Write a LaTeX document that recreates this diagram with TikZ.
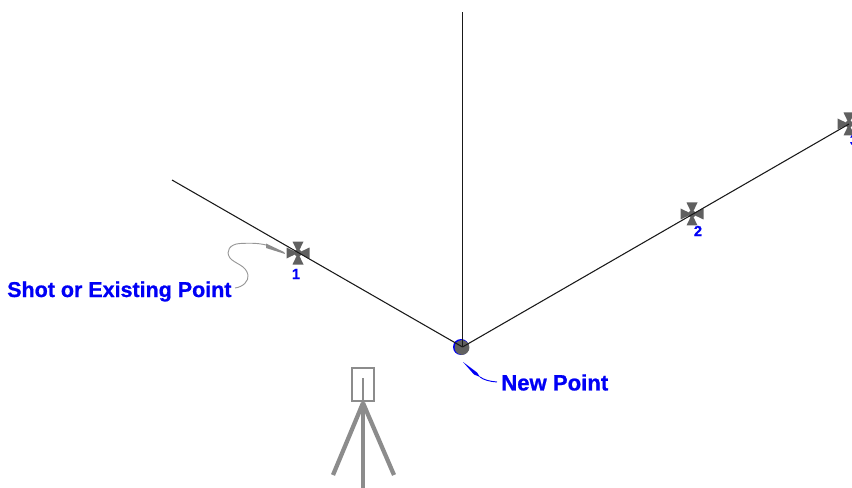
\documentclass[tikz,border=0pt]{standalone}
\usepackage{fontspec}
\setmainfont{Liberation Sans}
\newfontfamily\callfont[RawFeature={embolden=0.9}]{Liberation Sans Bold}
\usetikzlibrary{arrows.meta}
\definecolor{wedge}{RGB}{96,96,96}
\definecolor{tri}{RGB}{140,140,140}
\definecolor{lab}{RGB}{0,0,245}
\tikzset{
  ray/.style={draw=black!90,line width=0.8pt},
  calllabel/.style={text=lab,inner sep=0pt,anchor=west},
  numlabel/.style={text=lab,font=\callfont\fontsize{11}{11}\selectfont,inner sep=0pt},
  leader/.style={line width=0.7pt},
  legline/.style={draw=tri,line width=3.2pt},
  shot/.pic={
    \fill[wedge] (0,0) -- (-5.5,-11.5) -- (5.5,-11.5) -- cycle;
    \fill[wedge] (0,0) -- (-5.5,11.5) -- (5.5,11.5) -- cycle;
    \fill[wedge] (0,0) -- (-11.5,-5.5) -- (-11.5,5.5) -- cycle;
    \fill[wedge] (0,0) -- (11.5,-5.5) -- (11.5,5.5) -- cycle;
    \fill[wedge] (0,0) circle (3.6);
  }
}
\begin{document}
\begin{tikzpicture}[x=0.75pt,y=-0.75pt]
\useasboundingbox (0,0) rectangle (852,488);
\clip (0,0) rectangle (852,488);
\coordinate (np) at (462.5,347);
\coordinate (top) at (462.5,12);
\coordinate (left) at (172,180);
\coordinate (s1) at (298,253);
\coordinate (s2) at (692,214);
\coordinate (s3) at (849,124);
% points
\pic at (s1) {shot};
\pic at (s2) {shot};
\pic at (s3) {shot};
\fill[lab] (461,347) circle (8);
\fill[wedge] (462,347.5) circle (7.4);
% rays
\draw[ray] (np) -- (top);
\draw[ray] (np) -- (left);
\draw[ray] (np) -- (s3);
% numbers
\node[numlabel] (n1) at (296,274) {1};
\node[numlabel] (n2) at (698,231) {2};
\node[numlabel] (n3) at (854,140) {3};
% callouts
\node[calllabel,font=\callfont\fontsize{16.1}{16.1}\selectfont] (shotlab) at (7,291.5) {Shot or Existing Point};
\node[calllabel,font=\callfont\fontsize{16.6}{16.6}\selectfont] (newlab) at (501,382.5) {New Point};
\draw[leader,draw=tri!90] (235,288) .. controls (243,287) and (249,281) .. (248,275)
  .. controls (246,265) and (235,264) .. (230,258)
  .. controls (225,251) and (230,244) .. (240,243.5)
  .. controls (250,243) and (258,243) .. (266,245);
\fill[tri] (266,243.5) -- (284,252) -- (285,254) -- (266,248) -- cycle;
\draw[leader,draw=lab] (497,382) .. controls (490,381.5) and (484,380) .. (480,377);
\fill[lab] (463,362) -- (477,372.5) -- (480,377) -- (474,374.5) -- cycle;
% instrument
\node[draw=tri,line width=1pt,minimum width=16.5pt,minimum height=24.75pt,inner sep=0pt] (box) at (363,384.5) {};
\draw[draw=tri,line width=0.9pt] (box.south) -- (363,378);
\coordinate (apex) at (363,403);
\coordinate (fl) at (333,475);
\coordinate (fr) at (394,475);
\coordinate (fm) at (363,488);
\fill[tri] (363,400) -- (358,410) -- (368,410) -- cycle;
\draw[legline] (apex) -- (fl);
\draw[legline] (apex) -- (fr);
\draw[legline] (apex) -- (fm);
\end{tikzpicture}
\end{document}
